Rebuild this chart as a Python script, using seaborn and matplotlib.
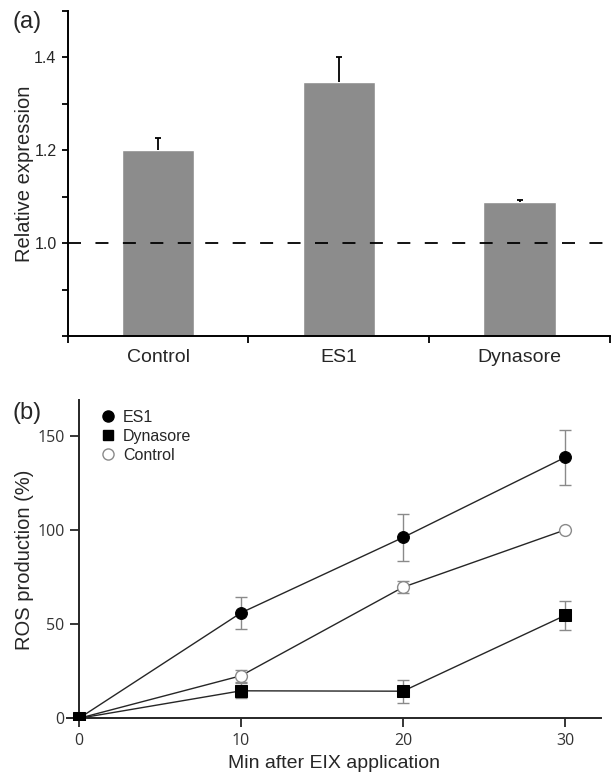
import numpy as np
import pandas as pd
import matplotlib
matplotlib.use("Agg")
import matplotlib.pyplot as plt
from matplotlib.lines import Line2D
import seaborn as sns

# ---------------- data ----------------
# panel (a)
bar_categories = ["Control", "ES1", "Dynasore"]
bar_values = [1.200, 1.347, 1.089]
bar_err_up = [0.027, 0.053, 0.004]
a_yticks = [0.8, 0.9, 1.0, 1.1, 1.2, 1.3, 1.4, 1.5]
a_yticklabels = ["", "", "1.0", "", "1.2", "", "1.4", ""]
reference_level = 1.0

# panel (b)
minutes = [0, 10, 20, 30]
es1_values = [0, 56, 96, 138.5]
es1_err = [0, 8.5, 12.3, 14.5]
dyn_values = [0, 14.6, 14.4, 54.6]
dyn_err = [0, 4.0, 6.2, 7.6]
ctl_values = [0, 22.6, 69.6, 100]
ctl_err = [0, 3.3, 3.3, 0]
b_xticks = [0, 10, 20, 30]
b_yticks = [0, 50, 100, 150]

# ---------------- style ----------------
sns.set_style("ticks")
plt.rcParams["font.family"] = ["Liberation Sans", "DejaVu Sans"]

fig = plt.figure(figsize=(6.12, 7.75), dpi=100)

# ================= panel (a) =================
axa = fig.add_axes([67.7 / 612, (775 - 336) / 775, 542.3 / 612, 325 / 775])
sns.barplot(x=bar_categories, y=bar_values, color="#8c8c8c", width=0.4,
            saturation=1, ax=axa, zorder=2)
eb = axa.errorbar(range(len(bar_categories)), bar_values,
                  yerr=[np.zeros(len(bar_values)), bar_err_up],
                  fmt="none", ecolor="black", elinewidth=1.3, capsize=2.2,
                  capthick=1.3, zorder=3)
eb[1][0].set_visible(False)
axa.axhline(reference_level, color="black", lw=1.3, dashes=(7.2, 8.0), zorder=4)

axa.set_xlim(-0.5, 2.5)
axa.set_ylim(0.8, 1.5)
axa.set_yticks(a_yticks)
axa.set_yticklabels(a_yticklabels)
axa.set_xticks([-0.5, 0.5, 1.5, 2.5])
axa.set_xticklabels([])
axa.set_xticks([0, 1, 2], minor=True)
axa.set_xticklabels(bar_categories, minor=True)
axa.tick_params(axis="x", which="major", direction="out", length=5, width=1.3, color="black")
axa.tick_params(axis="x", which="minor", length=0, pad=9, labelsize=14)
axa.tick_params(axis="y", direction="out", length=4, width=1.3, pad=4, labelsize=11.5, color="black")
for s in ["top", "right"]:
    axa.spines[s].set_visible(False)
for s in ["left", "bottom"]:
    axa.spines[s].set_linewidth(1.4)
    axa.spines[s].set_color("black")
axa.set_xlabel("")
axa.set_ylabel("Relative expression", fontsize=14.5)
axa.yaxis.set_label_coords((34 - 67.7) / 542.3, 0.5)
fig.text(13 / 612, 1 - 22 / 775, "(a)", fontsize=17, va="center", ha="left")

# ================= panel (b) =================
axb = fig.add_axes([66.7 / 612, (775 - 720.2) / 775, 533.9 / 612, 320.2 / 775])
line_col = "#262626"
err_col = "#8a8a8a"

series = [
    ("ES1", es1_values, es1_err, dict(marker="o", markerfacecolor="black",
                                      markeredgecolor="black", markersize=8.5)),
    ("Control", ctl_values, ctl_err, dict(marker="o", markerfacecolor="white",
                                          markeredgecolor="#8a8a8a", markersize=8.5,
                                          markeredgewidth=1.0)),
    ("Dynasore", dyn_values, dyn_err, dict(marker="s", markerfacecolor="black",
                                           markeredgecolor="black", markersize=8)),
]
for i, (name, vals, errs, mk) in enumerate(series):
    axb.errorbar(minutes, vals, yerr=errs, fmt="none", ecolor=err_col,
                 elinewidth=1.0, capsize=4.5, capthick=1.0, zorder=2 + i)
    sns.lineplot(x=minutes, y=vals, color=line_col, lw=1.0, ax=axb,
                 zorder=3 + i, **mk)

axb.set_xlim(-0.76, 32.2)
axb.set_ylim(-1, 169)
axb.spines["left"].set_position(("data", 0))
axb.spines["bottom"].set_position(("data", 0))
for s in ["top", "right"]:
    axb.spines[s].set_visible(False)
for s in ["left", "bottom"]:
    axb.spines[s].set_linewidth(1.4)
    axb.spines[s].set_color("#262626")
axb.set_xticks(b_xticks)
axb.set_yticks(b_yticks)
tick_font = ["Open Sans", "DejaVu Sans"]
axb.set_xticklabels([str(v) for v in b_xticks], family=tick_font, color="#333333")
axb.set_yticklabels([str(v) for v in b_yticks], family=tick_font, color="#333333")
axb.tick_params(axis="both", direction="out", length=6.5, width=1.3,
                color="#262626", labelsize=11.5, pad=4)
axb.set_xlabel("Min after EIX application", fontsize=14)
axb.xaxis.set_label_coords(0.5, -(763 - 720.2) / 320.2)
axb.xaxis.label.set_va("center")
axb.set_ylabel("ROS production (%)", fontsize=14.5)
axb.yaxis.set_label_coords((34 - 66.7) / 533.9, 0.5)

handles = [
    Line2D([], [], linestyle="none", marker="o", markerfacecolor="black",
           markeredgecolor="black", markersize=8),
    Line2D([], [], linestyle="none", marker="s", markerfacecolor="black",
           markeredgecolor="black", markersize=7.5),
    Line2D([], [], linestyle="none", marker="o", markerfacecolor="white",
           markeredgecolor="#8a8a8a", markersize=8),
]
axb.legend(handles, ["ES1", "Dynasore", "Control"], loc="upper left",
           bbox_to_anchor=((102 - 66.7) / 533.9, 1 - (410 - 400) / 320.2),
           frameon=False, fontsize=11.5, handlelength=0.8, handletextpad=0.5,
           labelspacing=0.25, borderaxespad=0, borderpad=0)
fig.text(12 / 612, 1 - 413 / 775, "(b)", fontsize=17, va="center", ha="left")

fig.savefig("out.png", dpi=100)
